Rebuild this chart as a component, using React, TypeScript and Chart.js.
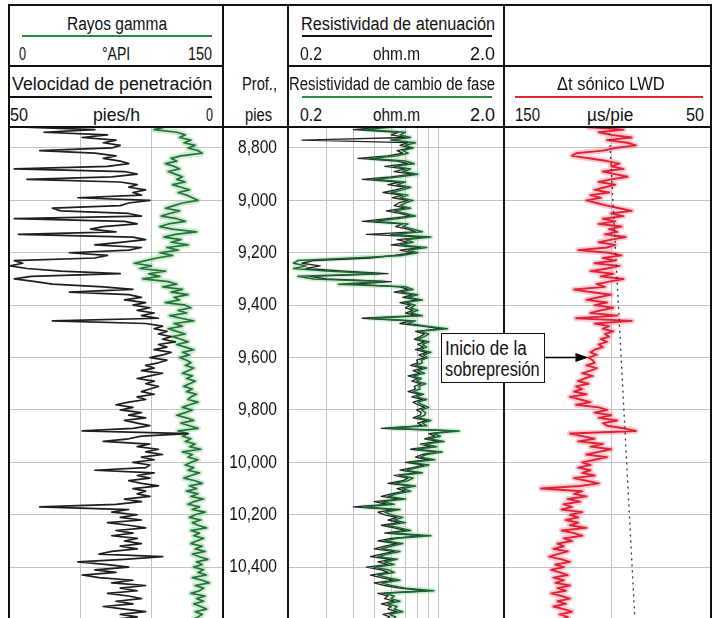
import React, { useEffect, useLayoutEffect, useRef, useState } from "react";
import { Chart, registerables } from "chart.js";

Chart.register(...registerables);

const FONT = '"Liberation Sans", Arial, sans-serif';

// ---- depth axis ----
const DEPTH_MIN = 8720;
const DEPTH_MAX = 10594;
const DEPTH_TICKS = [8800, 9000, 9200, 9400, 9600, 9800, 10000, 10200, 10400];

const DEPTHS = [
  8720, 8730, 8740, 8750, 8760, 8770, 8780, 8790, 8800, 8810,
  8820, 8830, 8840, 8850, 8860, 8870, 8880, 8890, 8900, 8910,
  8920, 8930, 8940, 8950, 8960, 8970, 8980, 8990, 9000, 9010,
  9020, 9030, 9040, 9050, 9060, 9070, 9080, 9090, 9100, 9110,
  9120, 9130, 9140, 9150, 9160, 9170, 9180, 9190, 9200, 9210,
  9220, 9230, 9240, 9250, 9260, 9270, 9280, 9290, 9300, 9310,
  9320, 9330, 9340, 9350, 9360, 9370, 9380, 9390, 9400, 9410,
  9420, 9430, 9440, 9450, 9460, 9470, 9480, 9490, 9500, 9510,
  9520, 9530, 9540, 9550, 9560, 9570, 9580, 9590, 9600, 9610,
  9620, 9630, 9640, 9650, 9660, 9670, 9680, 9690, 9700, 9710,
  9720, 9730, 9740, 9750, 9760, 9770, 9780, 9790, 9800, 9810,
  9820, 9830, 9840, 9850, 9860, 9870, 9880, 9890, 9900, 9910,
  9920, 9930, 9940, 9950, 9960, 9970, 9980, 9990, 10000, 10010,
  10020, 10030, 10040, 10050, 10060, 10070, 10080, 10090, 10100, 10110,
  10120, 10130, 10140, 10150, 10160, 10170, 10180, 10190, 10200, 10210,
  10220, 10230, 10240, 10250, 10260, 10270, 10280, 10290, 10300, 10310,
  10320, 10330, 10340, 10350, 10360, 10370, 10380, 10390, 10400, 10410,
  10420, 10430, 10440, 10450, 10460, 10470, 10480, 10490, 10500, 10510,
  10520, 10530, 10540, 10550, 10560, 10570, 10580, 10590, 10600,
];

// ---- track 1: gamma ray (0-150 API) ----
const GR = [
  110, 102, 118, 124, 120, 128, 123, 131, 126, 133,
  136, 121, 114, 118, 110, 116, 120, 112, 117, 122,
  118, 124, 115, 121, 127, 119, 125, 129, 133, 122,
  116, 110, 120, 113, 107, 118, 124, 112, 106, 115,
  132, 117, 109, 121, 114, 126, 111, 119, 106, 115,
  104, 96, 88, 100, 92, 110, 98, 106, 94, 112,
  118, 108, 122, 114, 126, 116, 120, 110, 124, 128,
  119, 125, 113, 121, 130, 116, 122, 112, 118, 124,
  115, 121, 126, 118, 124, 130, 122, 127, 120, 125,
  128, 124, 130, 126, 122, 129, 125, 131, 127, 123,
  129, 125, 132, 128, 126, 133, 127, 122, 129, 124,
  118, 125, 130, 121, 127, 133, 119, 126, 122, 128,
  124, 131, 127, 135, 122, 129, 126, 133, 128, 124,
  130, 126, 134, 128, 123, 131, 136, 127, 132, 125,
  133, 128, 137, 130, 126, 134, 129, 138, 131, 127,
  135, 129, 133, 139, 128, 134, 130, 137, 132, 128,
  136, 131, 138, 129, 134, 140, 132, 136, 130, 137,
  133, 139, 129, 136, 141, 131, 137, 134, 128, 138,
  132, 137, 130, 135, 139, 131, 136, 133, 129,
];

// ---- track 1: rate of penetration (50-0 ft/h) ----
const ROP = [
  48, 30, 42, 27, 33, 25, 28, 24, 26, 43,
  30, 25, 28, 24, 22, 27, 49, 23, 20, 26,
  46, 24, 20, 22, 18, 21, 19, 34, 17, 22,
  24, 40, 38, 22, 19, 49, 23, 20, 28, 31,
  25, 48, 21, 18, 24, 30, 19, 22, 36, 27,
  30, 49, 47, 50, 46, 38, 24, 45, 49, 44,
  40, 28, 21, 36, 22, 19, 23, 18, 21, 17,
  20, 16, 19, 15, 40, 18, 14, 16, 13, 15,
  12, 14, 11, 15, 13, 16, 12, 14, 17, 13,
  15, 18, 16, 19, 14, 17, 20, 16, 18, 15,
  17, 19, 16, 20, 18, 22, 25, 21, 24, 19,
  22, 18, 23, 20, 17, 21, 33, 8, 19, 22,
  28, 17, 20, 15, 18, 14, 19, 16, 21, 17,
  18, 30, 16, 20, 17, 22, 19, 15, 21, 18,
  20, 17, 23, 19, 25, 43, 22, 26, 20, 24,
  19, 27, 22, 18, 25, 21, 26, 20, 23, 19,
  24, 20, 26, 29, 14, 23, 34, 27, 22, 30,
  25, 33, 29, 21, 26, 18, 24, 20, 27, 22,
  19, 25, 21, 28, 23, 18, 24, 20, 26,
];

// ---- track 2: phase-shift resistivity (ohm.m) ----
const RES_PHASE = [
  0.62, 0.45, 0.70, 0.66, 0.74, 0.60, 0.78, 0.70, 0.76, 0.68,
  0.72, 0.64, 0.48, 0.70, 0.77, 0.62, 0.74, 0.68, 0.80, 0.66,
  0.50, 0.70, 0.64, 0.74, 0.68, 0.60, 0.72, 0.66, 0.76, 0.70,
  0.66, 0.74, 0.62, 0.70, 0.78, 0.64, 0.50, 0.72, 0.68, 0.76,
  0.84, 0.60, 0.92, 0.70, 0.76, 0.66, 0.88, 0.72, 0.80, 0.68,
  0.40, 0.22, 0.21, 0.24, 0.21, 0.30, 0.52, 0.22, 0.26, 0.55,
  0.34, 0.70, 0.76, 0.66, 0.80, 0.72, 0.84, 0.70, 0.78, 0.74,
  0.80, 0.74, 0.84, 0.48, 0.78, 0.72, 0.88, 1.10, 0.82, 0.90,
  0.86, 0.80, 0.90, 0.84, 0.88, 0.82, 0.92, 0.85, 0.89, 0.83,
  0.84, 0.78, 0.88, 0.80, 0.86, 0.76, 0.83, 0.79, 0.87, 0.81,
  0.82, 0.76, 0.85, 0.79, 0.88, 0.80, 0.84, 0.90, 0.83, 0.87,
  0.86, 0.80, 0.92, 0.84, 0.88, 0.58, 1.25, 0.94, 1.02, 0.90,
  1.06, 0.86, 0.98, 0.78, 1.04, 0.88, 0.82, 0.96, 0.74, 0.90,
  0.80, 0.70, 0.84, 0.66, 0.76, 0.72, 0.62, 0.78, 0.68, 0.74,
  0.64, 0.58, 0.70, 0.54, 0.62, 0.44, 0.66, 0.56, 0.60, 0.68,
  0.62, 0.70, 0.58, 0.66, 0.74, 0.60, 0.92, 0.64, 0.56, 0.68,
  0.60, 0.54, 0.66, 0.58, 0.52, 0.64, 0.56, 0.62, 0.50, 0.58,
  0.62, 0.52, 0.58, 0.66, 0.54, 0.60, 0.70, 0.95, 0.56, 0.62,
  0.60, 0.66, 0.58, 0.64, 0.62, 0.68, 0.59, 0.63, 0.61,
];

// ---- track 2: attenuation resistivity (ohm.m) ----
const RES_ATT = [
  0.55, 0.40, 0.65, 0.60, 0.70, 0.23, 0.72, 0.66, 0.74, 0.64,
  0.68, 0.58, 0.42, 0.64, 0.72, 0.56, 0.70, 0.62, 0.76, 0.60,
  0.44, 0.66, 0.58, 0.70, 0.63, 0.55, 0.68, 0.61, 0.72, 0.65,
  0.62, 0.70, 0.57, 0.66, 0.74, 0.58, 0.44, 0.68, 0.63, 0.72,
  0.78, 0.46, 0.86, 0.64, 0.72, 0.60, 0.82, 0.66, 0.76, 0.62,
  0.48, 0.26, 0.23, 0.28, 0.24, 0.36, 0.58, 0.25, 0.30, 0.60,
  0.40, 0.66, 0.72, 0.62, 0.76, 0.68, 0.80, 0.66, 0.74, 0.70,
  0.76, 0.70, 0.80, 0.44, 0.74, 0.66, 0.84, 1.04, 0.78, 0.86,
  0.82, 0.77, 0.86, 0.80, 0.85, 0.78, 0.88, 0.81, 0.86, 0.79,
  0.80, 0.74, 0.84, 0.76, 0.82, 0.72, 0.80, 0.75, 0.83, 0.77,
  0.78, 0.72, 0.82, 0.75, 0.84, 0.76, 0.80, 0.86, 0.79, 0.83,
  0.82, 0.76, 0.88, 0.80, 0.84, 0.54, 1.18, 0.90, 0.96, 0.86,
  1.00, 0.82, 0.92, 0.74, 0.98, 0.84, 0.78, 0.90, 0.70, 0.86,
  0.76, 0.66, 0.80, 0.62, 0.72, 0.68, 0.58, 0.74, 0.64, 0.70,
  0.60, 0.54, 0.66, 0.50, 0.58, 0.40, 0.62, 0.52, 0.56, 0.64,
  0.58, 0.66, 0.54, 0.62, 0.70, 0.56, 0.86, 0.60, 0.52, 0.64,
  0.56, 0.50, 0.62, 0.54, 0.48, 0.60, 0.52, 0.58, 0.46, 0.54,
  0.58, 0.48, 0.54, 0.62, 0.50, 0.56, 0.66, 0.88, 0.52, 0.58,
  0.56, 0.62, 0.54, 0.60, 0.58, 0.64, 0.55, 0.59, 0.57,
];

// ---- track 3: LWD sonic delta-t (150-50 us/ft) ----
const DT = [
  110, 92, 104, 98, 88, 100, 90, 86, 96, 102,
  115, 117, 108, 100, 94, 98, 92, 102, 96, 90,
  98, 104, 96, 101, 106, 99, 108, 103, 110, 105,
  100, 94, 88, 98, 92, 102, 96, 104, 93, 99,
  95, 101, 91, 98, 104, 96, 100, 114, 99, 93,
  102, 96, 106, 94, 100, 108, 97, 103, 92, 99,
  105, 101, 116, 108, 98, 104, 110, 100, 106, 97,
  103, 108, 95, 115, 88, 106, 99, 102, 97, 101,
  99, 103, 100, 104, 102, 106, 108, 105, 109, 107,
  106, 110, 105, 108, 112, 107, 111, 114, 109, 115,
  112, 116, 110, 118, 113, 108, 115, 104, 100, 106,
  98, 104, 95, 102, 100, 92, 86, 118, 112, 106,
  114, 102, 108, 98, 104, 110, 100, 106, 112, 108,
  114, 108, 112, 106, 116, 110, 104, 113, 132, 112,
  116, 110, 119, 113, 121, 117, 122, 112, 118, 114,
  120, 114, 118, 110, 122, 116, 112, 121, 117, 124,
  121, 126, 119, 124, 128, 122, 118, 125, 121, 127,
  123, 119, 126, 121, 125, 118, 124, 120, 127, 122,
  118, 124, 120, 126, 121, 117, 123, 119, 122,
];

// normal compaction trend (dashed)
const TREND_DEPTHS = [8720, 10594];
const TREND_DT = [99, 86.5];

// grid lines
const GR_GRID = [50, 100];
const RES_GRID = [0.3, 0.4, 0.5, 0.6, 0.7, 0.8, 0.9, 1.0];
const DT_GRID = [98];

// annotation
const ARROW_DEPTH = 9600;
const ARROW_DT = 109;

const GRID_COLOR = "#c2c2c2";

const pts = (vals: number[], depths: number[]) => vals.map((v, i) => ({ x: v, y: depths[i] }));

const setTicks = (list: number[]) => (axis: any) => {
  axis.ticks = list.map((v) => ({ value: v }));
};

const yAxis = () => ({
  type: "linear",
  axis: "y",
  position: "left",
  min: DEPTH_MIN,
  max: DEPTH_MAX,
  reverse: true,
  afterBuildTicks: setTicks(DEPTH_TICKS),
  ticks: { display: false },
  grid: { color: GRID_COLOR, lineWidth: 1, drawTicks: false, tickLength: 0 },
  border: { display: false },
});

const gridX = (extra: any, list: number[]) => ({
  axis: "x",
  position: "top",
  afterBuildTicks: setTicks(list),
  ticks: { display: false },
  grid: { color: GRID_COLOR, lineWidth: 1, drawTicks: false, tickLength: 0 },
  border: { display: false },
  ...extra,
});

const lineDs = (label: string, data: any[], xAxisID: string, color: string, width: number, order: number, extra: any = {}) => ({
  label,
  data,
  xAxisID,
  yAxisID: "y",
  borderColor: color,
  borderWidth: width,
  pointRadius: 0,
  tension: 0,
  fill: false,
  borderJoinStyle: "round",
  order,
  ...extra,
});

const baseOptions = (scales: any, paddingLeft = 0) => ({
  responsive: false,
  animation: false,
  indexAxis: "y",
  events: [],
  layout: { padding: { left: paddingLeft, right: 0, top: 0, bottom: 0 } },
  plugins: { legend: { display: false }, tooltip: { enabled: false } },
  scales,
});

const depthLabelPlugin = {
  id: "depthLabels",
  afterDraw(chart: any) {
    const ctx = chart.ctx;
    const y = chart.scales.y;
    ctx.save();
    ctx.font = `19px ${FONT}`;
    ctx.fillStyle = "#111";
    ctx.textAlign = "right";
    ctx.textBaseline = "middle";
    DEPTH_TICKS.forEach((d) => {
      ctx.save();
      ctx.translate(53, y.getPixelForValue(d));
      ctx.scale(0.82, 1);
      ctx.fillText(d.toLocaleString("en-US"), 0, 0);
      ctx.restore();
    });
    ctx.restore();
  },
};

const arrowPlugin = {
  id: "arrow",
  afterDraw(chart: any) {
    const ctx = chart.ctx;
    const y = chart.scales.y.getPixelForValue(ARROW_DEPTH);
    const tip = chart.scales.x.getPixelForValue(ARROW_DT);
    ctx.save();
    ctx.strokeStyle = "#000";
    ctx.fillStyle = "#000";
    ctx.lineWidth = 1.5;
    ctx.beginPath();
    ctx.moveTo(0, y);
    ctx.lineTo(tip - 10, y);
    ctx.stroke();
    ctx.beginPath();
    ctx.moveTo(tip, y);
    ctx.lineTo(tip - 13, y - 4.5);
    ctx.lineTo(tip - 13, y + 4.5);
    ctx.closePath();
    ctx.fill();
    ctx.restore();
  },
};

function ChartCanvas({ left, top, width, height, build }: any) {
  const ref = useRef<HTMLCanvasElement | null>(null);
  useEffect(() => {
    const chart = new Chart(ref.current as HTMLCanvasElement, build());
    return () => chart.destroy();
  }, []);
  return (
    <canvas
      ref={ref}
      width={width}
      height={height}
      style={{ position: "absolute", left, top, width, height, display: "block" }}
    />
  );
}

const buildTrack1 = () => ({
  type: "line",
  data: {
    datasets: [
      lineDs("ROP", pts(ROP, DEPTHS), "xrop", "#1e1e1e", 1.7, 0),
      lineDs("GR", pts(GR, DEPTHS), "xgr", "#23733c", 1.7, 1),
      lineDs("GR halo", pts(GR, DEPTHS), "xgr", "rgba(160,218,168,0.5)", 6, 2),
    ],
  },
  options: baseOptions({
    y: yAxis(),
    xgr: gridX({ type: "linear", min: 0, max: 150 }, GR_GRID),
    xrop: { type: "linear", axis: "x", position: "top", min: 0, max: 50, reverse: true, display: false },
  }),
});

const buildTrack2 = () => ({
  type: "line",
  data: {
    datasets: [
      lineDs("Phase", pts(RES_PHASE, DEPTHS), "x", "#1d6634", 1.5, 0),
      lineDs("Attenuation", pts(RES_ATT, DEPTHS), "x", "#262626", 1.3, 1),
      lineDs("Phase halo", pts(RES_PHASE, DEPTHS), "x", "rgba(160,218,168,0.45)", 5, 2),
    ],
  },
  options: baseOptions(
    {
      y: yAxis(),
      x: gridX({ type: "logarithmic", min: 0.2, max: 2.0 }, RES_GRID),
    },
    65
  ),
  plugins: [depthLabelPlugin],
});

const buildTrack3 = () => ({
  type: "line",
  data: {
    datasets: [
      lineDs("Trend", pts(TREND_DT, TREND_DEPTHS), "x", "#333", 1.3, 0, { borderDash: [2, 4] }),
      lineDs("DT", pts(DT, DEPTHS), "x", "#e02238", 1.9, 1),
      lineDs("DT halo", pts(DT, DEPTHS), "x", "rgba(245,140,150,0.45)", 6, 2),
    ],
  },
  options: baseOptions({
    y: yAxis(),
    x: gridX({ type: "linear", min: 50, max: 150, reverse: true }, DT_GRID),
  }),
  plugins: [arrowPlugin],
});

// text fitted horizontally to the width it has in the reference
function FT({ x, base, w, size = 18, color = "#111", children }: any) {
  const ref = useRef<HTMLSpanElement | null>(null);
  const [sx, setSx] = useState(1);
  useLayoutEffect(() => {
    const el = ref.current;
    if (!el) return;
    const natural = el.offsetWidth;
    if (natural > 0) setSx(w / natural);
  }, [w, children]);
  return (
    <span
      ref={ref}
      style={{
        position: "absolute",
        left: x,
        top: base - 0.8465 * size,
        fontSize: size,
        lineHeight: `${size}px`,
        fontFamily: FONT,
        whiteSpace: "nowrap",
        color,
        transform: `scaleX(${sx})`,
        transformOrigin: "0 0",
        zIndex: 9,
      }}
    >
      {children}
    </span>
  );
}

const Line = ({ x, y, w, h, c = "#111", z = 4 }: any) => (
  <div style={{ position: "absolute", left: x, top: y, width: w, height: h, background: c, zIndex: z }} />
);

export default function App() {
  const R1 = 60;
  const R2 = 121.7;
  const H1 = 30.7;
  const H2 = 90.7;
  return (
    <div style={{ position: "absolute", left: 0, top: 0, width: 717, height: 618, overflow: "hidden", background: "#fff" }}>
      <ChartCanvas left={10} top={127} width={212} height={491} build={buildTrack1} />
      <ChartCanvas left={224} top={127} width={279} height={491} build={buildTrack2} />
      <ChartCanvas left={504} top={127} width={206} height={491} build={buildTrack3} />

      {/* frame */}
      <Line x={8} y={4} w={704} h={2} />
      <Line x={8} y={4} w={2} h={614} />
      <Line x={710} y={4} w={2} h={614} />
      <Line x={222} y={4} w={2} h={614} />
      <Line x={287} y={4} w={2} h={614} />
      <Line x={503} y={4} w={2} h={614} />
      <Line x={8} y={65} w={216} h={2} />
      <Line x={287} y={65} w={425} h={2} />
      <Line x={8} y={126} w={704} h={2} />

      {/* track 1 header */}
      <FT x={66.7} base={H1} w={100}>Rayos gamma</FT>
      <Line x={22} y={34.5} w={190} h={2} c="#2b8a3e" />
      <FT x={19} base={R1} w={7}>0</FT>
      <FT x={102} base={R1} w={28}>°API</FT>
      <FT x={188} base={R1} w={24}>150</FT>
      <FT x={12} base={H2} w={200}>Velocidad de penetración</FT>
      <Line x={10} y={96} w={202} h={2} c="#111" />
      <FT x={10} base={R2} w={18}>50</FT>
      <FT x={93} base={R2} w={47}>pies/h</FT>
      <FT x={206} base={R2} w={7}>0</FT>

      {/* depth header */}
      <FT x={242} base={H2} w={35}>Prof.,</FT>
      <FT x={245} base={R2} w={27}>pies</FT>

      {/* track 2 header */}
      <FT x={301} base={H1} w={194}>Resistividad de atenuación</FT>
      <Line x={302} y={34.5} w={190} h={2} c="#111" />
      <FT x={300} base={R1} w={22}>0.2</FT>
      <FT x={373} base={R1} w={47}>ohm.m</FT>
      <FT x={470} base={R1} w={25}>2.0</FT>
      <FT x={289} base={H2} w={206}>Resistividad de cambio de fase</FT>
      <Line x={302} y={96} w={190} h={2} c="#2b8a3e" />
      <FT x={300} base={R2} w={22}>0.2</FT>
      <FT x={373} base={R2} w={47}>ohm.m</FT>
      <FT x={470} base={R2} w={25}>2.0</FT>

      {/* track 3 header */}
      <FT x={557} base={H2} w={108}>Δt sónico LWD</FT>
      <Line x={515} y={96} w={188} h={2} c="#e3262f" />
      <FT x={515} base={R2} w={25}>150</FT>
      <FT x={587} base={R2} w={46}>µs/pie</FT>
      <FT x={686} base={R2} w={18}>50</FT>

      {/* annotation */}
      <div
        style={{
          position: "absolute",
          left: 441,
          top: 333,
          width: 104,
          height: 50,
          boxSizing: "border-box",
          border: "1.5px solid #111",
          background: "#fff",
          zIndex: 8,
        }}
      />
      <FT x={445} base={355} w={82} size={20}>Inicio de la</FT>
      <FT x={445} base={376} w={95} size={20}>sobrepresión</FT>
    </div>
  );
}
